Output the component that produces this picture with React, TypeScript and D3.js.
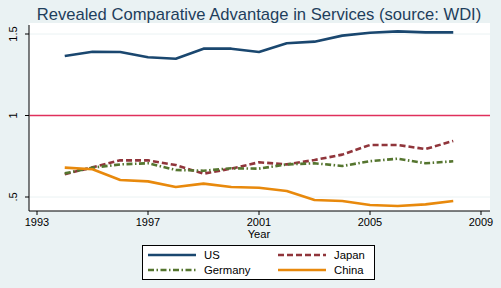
import * as d3 from "d3";

// Revealed comparative advantage in services, 1994-2008
const years = [1994, 1995, 1996, 1997, 1998, 1999, 2000, 2001, 2002, 2003, 2004, 2005, 2006, 2007, 2008];
const us = [1.365, 1.391, 1.39, 1.357, 1.348, 1.41, 1.41, 1.39, 1.443, 1.453, 1.49, 1.508, 1.516, 1.51, 1.51];
const japan = [0.64, 0.682, 0.725, 0.725, 0.696, 0.643, 0.674, 0.713, 0.7, 0.727, 0.76, 0.819, 0.819, 0.794, 0.844];
const germany = [0.645, 0.68, 0.7, 0.707, 0.666, 0.661, 0.676, 0.674, 0.7, 0.707, 0.69, 0.72, 0.735, 0.707, 0.719];
const china = [0.68, 0.67, 0.604, 0.596, 0.561, 0.582, 0.561, 0.557, 0.537, 0.482, 0.475, 0.451, 0.445, 0.455, 0.475];

const xTicks = [1993, 1997, 2001, 2005, 2009];
const yTicks = [0.5, 1, 1.5];
const yTickLabels = [".5", "1", "1.5"];

const series = [
  { name: "US", values: us, color: "#1a476f", dash: "" },
  { name: "Japan", values: japan, color: "#90353b", dash: "6,3" },
  { name: "Germany", values: germany, color: "#55752f", dash: "6,2.5,1.5,2.5" },
  { name: "China", values: china, color: "#e8890c", dash: "" },
];

const W = 501;
const H = 288;
const plot = { left: 29, right: 490, top: 23, bottom: 211 };
const font = "'Liberation Sans', Arial, sans-serif";

export default function App() {
  const x = d3.scaleLinear().domain([1993, 2009]).range([37, 481]);
  const y = d3.scaleLinear().domain([0.5, 1.5]).range([197, 34]);

  const line = d3
    .line<number>()
    .x((_, i) => x(years[i]))
    .y((v) => y(v));

  // legend layout: two columns, two rows
  const legendItems = [
    { s: series[0], lx: 148, ly: 255 },
    { s: series[1], lx: 278, ly: 255 },
    { s: series[2], lx: 148, ly: 270 },
    { s: series[3], lx: 278, ly: 270 },
  ];

  return (
    <svg
      width={W}
      height={H}
      style={{ position: "absolute", left: 0, top: 0, display: "block" }}
      fontFamily={font}
    >
      <rect x={0} y={0} width={W} height={H} fill="#eaf2f3" />
      <rect
        x={plot.left}
        y={plot.top}
        width={plot.right - plot.left}
        height={plot.bottom - plot.top}
        fill="#ffffff"
      />

      <text x={259} y={20} textAnchor="middle" fontSize={16.6} fill="#1e3e5c">
        Revealed Comparative Advantage in Services (source: WDI)
      </text>

      {/* gridlines at .5 and 1.5 */}
      {yTicks
        .filter((t) => t !== 1)
        .map((t) => (
          <line
            key={"g" + t}
            x1={plot.left}
            x2={plot.right}
            y1={y(t)}
            y2={y(t)}
            stroke="#eaf2f3"
            strokeWidth={1}
          />
        ))}

      {/* reference line at 1 */}
      <rect
        x={plot.left + 0.5}
        y={y(1) - 0.75}
        width={plot.right - plot.left - 0.5}
        height={1.5}
        fill="#e0305c"
      />

      {/* y axis */}
      <line x1={plot.left} x2={plot.left} y1={plot.top + 2} y2={plot.bottom} stroke="#000" strokeWidth={1} />
      {yTicks.map((t, i) => (
        <g key={"y" + t}>
          <line x1={plot.left - 4} x2={plot.left} y1={y(t)} y2={y(t)} stroke="#000" />
          <text
            transform={`translate(17,${y(t)}) rotate(-90)`}
            textAnchor="middle"
            fontSize={11}
            fill="#000"
          >
            {yTickLabels[i]}
          </text>
        </g>
      ))}

      {/* x axis */}
      <line x1={plot.left} x2={plot.right} y1={plot.bottom} y2={plot.bottom} stroke="#000" strokeWidth={1} />
      {xTicks.map((t) => (
        <g key={"x" + t}>
          <line x1={x(t)} x2={x(t)} y1={plot.bottom} y2={plot.bottom + 4} stroke="#000" />
          <text x={x(t)} y={225.5} textAnchor="middle" fontSize={11} fill="#000">
            {t}
          </text>
        </g>
      ))}
      <text x={259} y={237.5} textAnchor="middle" fontSize={11.2} fill="#000">
        Year
      </text>

      {/* series */}
      {series.map((s) => (
        <path
          key={s.name}
          d={line(s.values) ?? ""}
          fill="none"
          stroke={s.color}
          strokeWidth={2.6}
          strokeDasharray={s.dash || undefined}
          strokeLinejoin="round"
        />
      ))}

      {/* legend */}
      <rect x={142.5} y={245.5} width={232} height={34} fill="#fff" stroke="#000" strokeWidth={1} />
      {legendItems.map(({ s, lx, ly }) => (
        <g key={"l" + s.name}>
          <line
            x1={lx}
            x2={lx + 48}
            y1={ly}
            y2={ly}
            stroke={s.color}
            strokeWidth={2.6}
            strokeDasharray={s.dash || undefined}
          />
          <text x={lx + 56} y={ly + 4} fontSize={11.3} fill="#000">
            {s.name}
          </text>
        </g>
      ))}
    </svg>
  );
}
